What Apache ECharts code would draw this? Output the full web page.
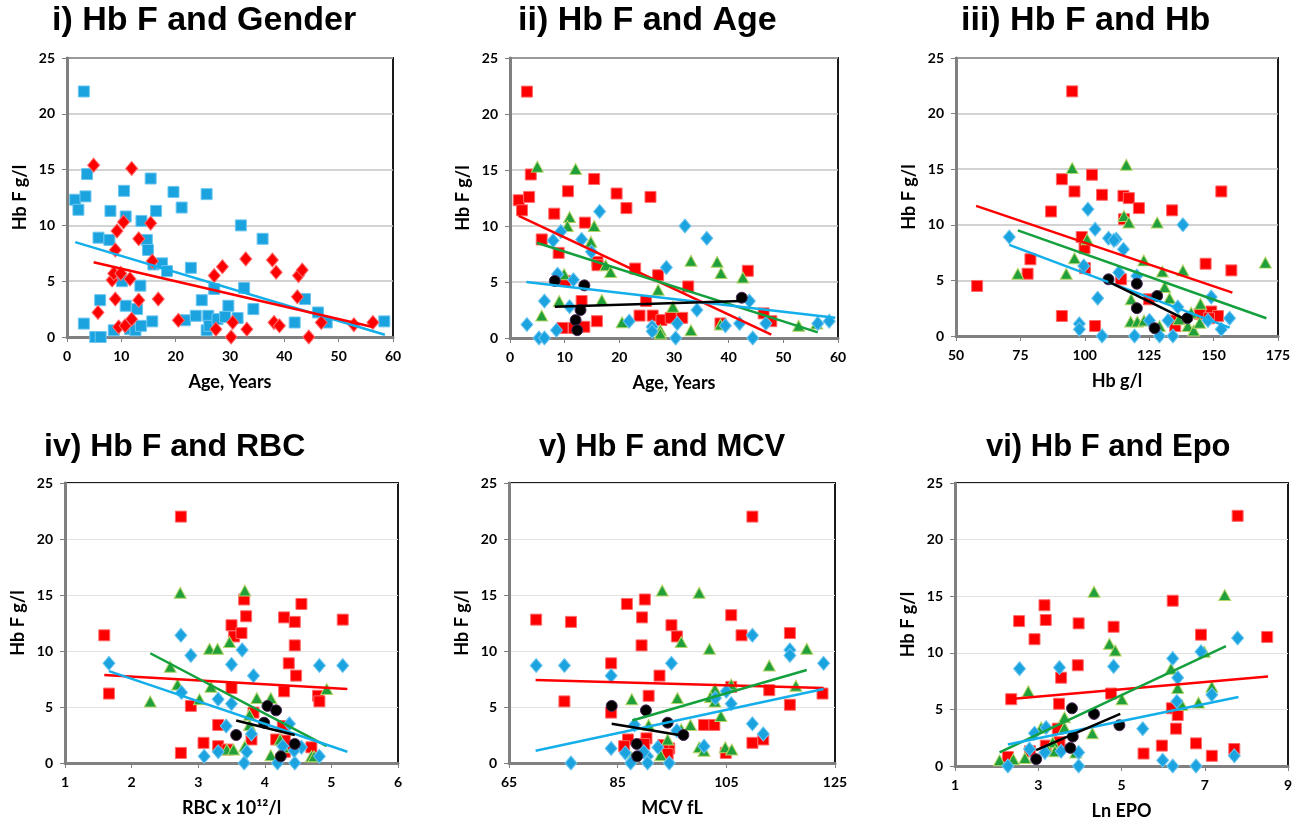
<!DOCTYPE html>
<html><head><meta charset="utf-8">
<script src="https://cdn.jsdelivr.net/npm/echarts@6/dist/echarts.min.js"></script>
<style>html,body{margin:0;padding:0;background:#fff}#c{width:1308px;height:825px}</style>
</head><body><div id="c"></div>
<script>
// ---------- Titles & axis labels ----------
const titles = ['i) Hb F and Gender','ii) Hb F and Age','iii) Hb F and Hb','iv) Hb F and RBC','v) Hb F and MCV','vi) Hb F and Epo'];
const xNames = ['Age, Years','Age, Years','Hb g/l','RBC x 10¹²/l','MCV fL','Ln EPO'];
const yName = 'Hb F g/l';
const yTicks = [0,5,10,15,20,25];
const xTicks = [[0,10,20,30,40,50,60],[0,10,20,30,40,50,60],[50,75,100,125,150,175],[1,2,3,4,5,6],[65,85,105,125],[1,3,5,7,9]];

// ---------- Panel i ----------
const p1Blue = [[3.1,22.0],[3.7,14.6],[1.5,12.3],[2.1,11.4],[3.4,12.6],[5.8,8.9],[7.8,8.7],[8.0,11.3],[10.5,13.1],[10.8,10.8],[13.7,10.4],[14.7,8.7],[14.9,7.8],[15.4,14.2],[16.4,11.3],[15.9,6.5],[17.5,6.6],[18.4,5.9],[19.6,13.0],[21.1,11.6],[22.8,6.2],[25.7,12.8],[27.1,4.3],[32.0,10.0],[32.6,4.4],[36.0,8.8],[10.1,5.0],[13.5,4.6],[6.1,3.3],[10.8,2.8],[12.9,2.5],[3.1,1.2],[5.2,0],[6.2,0],[8.6,0.6],[11.6,0.7],[12.6,0.6],[13.6,1.0],[15.7,1.4],[21.7,1.5],[23.7,1.9],[24.8,3.3],[25.7,0.6],[26.0,1.9],[26.2,1.0],[27.7,1.6],[29.1,1.8],[29.7,2.8],[31.4,1.7],[34.3,2.5],[41.9,1.3],[43.8,3.4],[46.2,2.2],[47.8,1.3],[58.4,1.4]];
const p1Red = [[4.9,15.4],[11.9,15.1],[10.4,10.3],[9.2,9.5],[15.4,10.2],[13.2,8.8],[8.9,7.8],[15.7,6.8],[8.3,5.1],[8.6,5.7],[9.9,5.7],[11.6,5.2],[8.9,3.4],[13.2,3.3],[16.8,3.4],[5.7,2.2],[9.5,0.9],[10.7,1.0],[11.9,1.6],[20.5,1.5],[27.1,5.5],[28.6,6.3],[32.9,7.0],[37.8,6.9],[38.5,5.8],[42.6,5.5],[43.3,6.0],[42.4,3.6],[27.4,0.7],[30.5,1.3],[30.2,0],[33.1,0.7],[38.1,1.3],[39.1,1.0],[44.5,0],[46.8,1.3],[52.8,1.1],[56.3,1.3]];
const p1BlueFit = [[1.5,8.5],[58.5,0.2]];
const p1RedFit = [[4.9,6.7],[56.3,0.9]];

// ---------- Panel ii ----------
const p2Red = [[3.1,22.0],[1.6,12.3],[2.2,11.4],[3.8,14.6],[3.5,12.6],[10.6,13.1],[15.4,14.2],[19.5,12.9],[21.3,11.6],[25.7,12.6],[8.1,11.1],[13.7,10.3],[5.8,8.8],[8.9,7.6],[16.0,6.8],[16.0,6.5],[22.9,6.2],[27.1,5.6],[10.1,5.1],[32.6,4.6],[43.5,6.0],[13.1,3.3],[24.9,3.3],[46.4,2.2],[47.8,1.5],[9.6,0.9],[11.7,0.9],[13.6,1.0],[15.9,1.5],[23.7,2.0],[26.1,2.0],[27.7,1.6],[29.4,1.8],[31.5,1.8],[38.5,1.3]];
const p2Green = [[5.0,15.3],[12.0,15.1],[10.9,10.8],[10.5,10.0],[15.4,10.0],[14.8,8.6],[17.5,6.5],[18.4,5.9],[9.9,5.7],[37.9,6.8],[33.1,6.9],[38.6,5.8],[42.6,5.4],[27.1,4.3],[29.8,2.8],[9.0,3.3],[16.8,3.4],[5.8,2.0],[20.5,1.4],[27.5,0.7],[27.5,0.4],[33.1,0.7],[38.5,1.2],[52.8,1.1],[56.1,1.3]];
const p2Blue = [[16.4,11.3],[32.0,10.0],[36.0,8.9],[9.3,9.5],[7.9,8.7],[13.1,8.8],[14.9,7.7],[8.7,5.7],[11.6,5.2],[28.6,6.3],[6.3,3.3],[10.9,2.8],[34.2,2.5],[43.8,3.3],[3.1,1.2],[5.3,0],[6.3,0],[8.5,0.7],[21.8,1.5],[26.0,1.0],[26.0,0.6],[30.6,1.3],[30.3,0],[39.4,1.1],[42.0,1.3],[44.4,0],[46.8,1.3],[56.3,1.3],[58.4,1.5]];
const p2Black = [[8.2,5.1],[13.6,4.7],[12.9,2.5],[12.0,1.6],[12.3,0.7],[42.4,3.6]];
const p2RedFit = [[1.6,10.9],[47.8,0.3]];
const p2GreenFit = [[4.9,8.5],[56.3,0.5]];
const p2BlueFit = [[3.0,5.0],[59.5,1.8]];
const p2BlackFit = [[8.2,2.8],[42.4,3.3]];

// ---------- Panel iii ----------
const p3Red = [[95.1,22.0],[58.2,4.5],[77.8,5.6],[78.9,6.9],[86.9,11.2],[91.1,14.1],[96.0,13.0],[102.8,14.5],[106.7,12.7],[115.0,12.6],[117.1,12.4],[121.0,11.5],[115.2,10.5],[98.8,8.9],[99.9,7.9],[100.1,6.1],[133.9,11.3],[153.0,13.0],[146.9,6.5],[156.9,5.9],[114.1,5.1],[124.9,3.3],[91.1,1.8],[104.0,0.9],[134.2,1.4],[135.1,0.9],[144.6,2.0],[149.1,2.2],[151.7,1.8],[148.2,1.6]];
const p3Green = [[95.1,15.1],[116.1,15.4],[115.2,10.8],[117.1,10.2],[128.1,10.2],[100.9,8.7],[96.0,7.0],[74.0,5.6],[92.8,5.6],[122.9,6.8],[130.1,5.8],[138.1,5.9],[170.1,6.6],[131.0,4.4],[132.9,3.4],[118.0,3.3],[144.9,2.9],[117.8,1.3],[120.4,1.3],[123.0,1.4],[129.0,0.9],[141.3,2.1],[140.0,0.9],[142.3,0.5],[136.5,1.5],[144.6,1.2]];
const p3Blue = [[70.7,8.9],[101.2,11.4],[104.0,9.6],[109.2,8.8],[112.2,8.7],[111.3,8.6],[115.0,7.8],[138.1,10.0],[99.6,6.3],[113.2,5.7],[120.2,5.4],[105.0,3.4],[97.9,1.1],[97.9,0.6],[106.7,0],[119.3,0],[129.0,0],[134.2,0],[149.1,3.5],[136.1,2.6],[125.1,1.4],[132.3,1.4],[156.2,1.6],[153.0,0.6],[147.8,1.4]];
const p3Black = [[109.2,5.1],[120.2,4.7],[120.2,2.5],[128.1,3.6],[127.1,0.7],[139.8,1.6]];
const p3RedFit = [[57.8,11.7],[157.3,3.9]];
const p3GreenFit = [[74.0,9.5],[170.5,1.6]];
const p3BlueFit = [[70.7,8.2],[156.2,0.75]];
const p3BlackFit = [[109.2,4.9],[139.8,1.4]];

// ---------- Panel iv ----------
const p4Red = [[2.74,22.0],[1.59,11.4],[1.66,6.2],[3.69,14.6],[3.72,13.1],[4.55,14.2],[4.29,13.0],[4.45,12.6],[5.17,12.8],[3.50,12.3],[3.54,11.3],[3.65,11.6],[4.45,10.5],[4.36,8.9],[4.47,7.8],[3.50,6.7],[4.29,6.4],[4.80,6.0],[4.82,5.5],[2.89,5.1],[3.30,3.4],[3.83,4.5],[3.80,2.1],[3.08,1.8],[3.30,1.5],[3.44,1.2],[2.74,0.9],[4.27,3.3],[4.17,2.1],[4.30,2.0],[4.70,1.4],[4.30,1.0]];
const p4Green = [[2.73,15.2],[3.70,15.4],[3.47,10.8],[3.17,10.2],[3.29,10.2],[2.58,8.6],[2.69,7.0],[2.28,5.5],[3.02,5.7],[3.19,6.8],[3.88,5.8],[4.09,5.8],[4.93,6.6],[3.77,4.3],[3.77,3.4],[3.43,1.2],[3.53,1.2],[3.70,1.5],[4.09,0.7],[4.23,2.1],[4.28,1.4],[4.70,0.6],[4.74,0.6]];
const p4Blue = [[2.74,11.4],[1.66,8.9],[2.89,9.6],[3.50,8.8],[3.66,10.1],[3.83,7.8],[4.82,8.7],[5.17,8.7],[2.75,6.3],[3.30,5.7],[3.50,5.3],[3.42,3.3],[3.73,1.0],[3.30,1.0],[3.09,0.6],[3.69,0],[4.19,0],[4.45,0],[4.37,3.5],[3.80,2.6],[4.55,1.4],[4.44,1.1],[4.82,0.6],[4.27,1.5]];
const p4Black = [[4.04,5.1],[4.17,4.7],[3.99,3.6],[3.57,2.5],[4.45,1.7],[4.24,0.6]];
const p4RedFit = [[1.59,7.85],[5.24,6.6]];
const p4GreenFit = [[2.28,9.8],[4.93,1.5]];
const p4BlueFit = [[1.66,8.2],[5.24,1.0]];
const p4BlackFit = [[3.57,3.8],[4.45,2.5]];

// ---------- Panel v ----------
const p5Red = [[109.8,22.0],[70.0,12.8],[76.4,12.6],[86.7,14.2],[90.0,14.6],[89.5,13.0],[94.9,12.3],[95.9,11.3],[105.9,13.2],[107.8,11.4],[116.7,11.6],[89.4,10.5],[83.8,8.9],[92.7,7.8],[75.2,5.5],[83.8,4.5],[90.7,6.0],[105.9,6.8],[112.9,6.5],[116.7,5.2],[122.7,6.2],[100.9,3.4],[102.8,3.4],[86.9,2.1],[90.3,2.2],[86.2,1.5],[94.5,1.3],[93.4,1.6],[94.2,0.8],[104.9,0.9],[109.8,1.8],[111.8,2.1],[89.9,1.7]];
const p5Green = [[93.2,15.4],[100.0,15.2],[96.7,10.8],[101.9,10.2],[119.8,10.2],[112.9,8.7],[105.9,7.0],[102.9,6.6],[102.1,5.9],[102.9,5.5],[117.8,6.9],[96.0,5.8],[87.6,5.7],[104.0,4.2],[98.4,3.4],[90.7,3.4],[94.2,2.1],[96.7,3.0],[100.0,1.4],[100.9,1.1],[104.8,1.4],[106.0,1.2],[92.9,0.7],[87.6,0.5]];
const p5Blue = [[70.0,8.7],[75.2,8.7],[83.8,7.8],[94.9,8.9],[109.8,11.4],[116.7,10.1],[116.7,9.6],[122.9,8.9],[103.0,5.8],[105.0,6.4],[105.9,5.3],[109.8,3.5],[111.8,2.6],[88.1,3.4],[95.9,2.9],[83.8,1.3],[86.4,0.9],[92.4,1.4],[100.9,1.5],[90.5,0.6],[76.4,0],[87.4,0],[90.5,0],[94.5,0],[89.8,1.0]];
const p5Black = [[83.9,5.1],[90.2,4.7],[94.2,3.6],[97.1,2.5],[88.5,1.7],[88.6,0.6]];
const p5RedFit = [[69.9,7.4],[122.9,6.7]];
const p5GreenFit = [[87.7,3.8],[119.8,8.3]];
const p5BlueFit = [[69.9,1.1],[122.9,6.6]];
const p5BlackFit = [[83.9,3.5],[96.3,2.5]];

// ---------- Panel vi ----------
const p6Red = [[7.79,22.1],[8.50,11.4],[6.23,14.6],[6.91,11.6],[2.54,12.8],[3.15,14.2],[3.18,12.9],[2.91,11.2],[3.97,12.6],[4.81,12.3],[3.95,8.9],[3.55,7.8],[4.75,6.4],[2.35,5.9],[3.50,5.5],[6.21,5.1],[6.35,4.5],[6.31,3.3],[3.47,3.3],[3.51,2.1],[3.18,1.8],[2.80,1.3],[2.27,0.8],[5.53,1.1],[5.97,1.8],[6.79,2.0],[7.17,0.9],[7.71,1.5]];
const p6Green = [[4.34,15.4],[7.48,15.1],[4.71,10.8],[4.85,10.2],[6.99,10.1],[6.19,8.6],[6.35,6.9],[7.17,7.0],[2.76,6.6],[5.01,5.9],[6.45,5.4],[6.85,5.6],[3.63,4.3],[3.07,3.4],[3.63,3.4],[4.30,2.9],[3.35,2.1],[3.23,1.4],[3.40,1.3],[3.90,1.2],[2.68,0.7],[2.40,0.6],[2.07,0.5]];
const p6Blue = [[7.79,11.3],[2.55,8.6],[3.51,8.7],[4.81,8.8],[6.23,9.5],[6.35,7.8],[6.91,10.1],[7.17,6.3],[6.33,5.7],[3.19,3.4],[2.91,2.9],[2.79,1.5],[3.16,1.2],[3.55,1.3],[3.97,1.2],[2.27,0],[3.97,0],[5.51,3.3],[5.99,0.5],[6.23,0],[6.79,0],[7.71,0.9]];
const p6Black = [[3.81,5.1],[4.34,4.6],[4.95,3.6],[3.83,2.6],[3.77,1.6],[2.95,0.6]];
const p6RedFit = [[2.27,5.9],[8.52,7.9]];
const p6GreenFit = [[2.07,1.2],[7.51,10.6]];
const p6BlueFit = [[2.27,1.9],[7.81,6.1]];
const p6BlackFit = [[2.95,1.4],[4.97,4.6]];

// ---------- Layout ----------
const grids = [
  {left:67, top:58, width:326, height:279},
  {left:510, top:58, width:328, height:280},
  {left:956, top:58, width:322, height:278},
  {left:65, top:483, width:333, height:280},
  {left:509, top:483, width:326, height:280},
  {left:955, top:483, width:333, height:283}
];
const titlePos = [[52,4,34],[518,4,34],[961,4,34],[44,431,32],[539,432,31],[986,432,31]];

const RED='#ff0000', BLUE='#1ba3e0', GREEN='#20a03a', BLACK='#000000';
const LBLUE='#14aeea', LGREEN='#14a03c';

const fontNum = 'Lato, "Open Sans", sans-serif';

function xAxis(i){
  const t = xTicks[i];
  return {
    type:'value', gridIndex:i, min:t[0], max:t[t.length-1],
    name:xNames[i], nameLocation:'middle', nameGap:36,
    nameTextStyle:{fontFamily:fontNum, fontWeight:'bold', fontSize:18, color:'#000'},
    axisLine:{show:true, onZero:false, lineStyle:{color:'#808080', width:3}},
    axisTick:{show:true, length:5, customValues:t, lineStyle:{color:'#808080', width:1}},
    axisLabel:{customValues:t, margin:12, fontFamily:fontNum, fontWeight:'bold', fontSize:14, color:'#000'},
    splitLine:{show:false}
  };
}
function yAxis(i){
  return {
    type:'value', gridIndex:i, min:0, max:25, interval:5,
    name:yName, nameLocation:'middle', nameGap:38, nameRotate:90,
    nameTextStyle:{fontFamily:fontNum, fontWeight:'bold', fontSize:18, color:'#000'},
    axisLine:{show:true, onZero:false, lineStyle:{color:'#808080', width:3}},
    axisTick:{show:true, length:5, lineStyle:{color:'#808080', width:1}},
    axisLabel:{margin:12, fontFamily:fontNum, fontWeight:'bold', fontSize:14, color:'#000'},
    splitLine:{show:true, lineStyle:{color: i<3 ? '#c4c4c4' : '#e2e2e2', width: i<3 ? 1.5 : 1}}
  };
}
function pts(i, data, kind){
  const m = {
    sq:{symbol:'rect', size:11, color:RED, border:'#ff6a6a'},
    bsq:{symbol:'rect', size:11, color:BLUE, border:'#6cc6ef'},
    rdia:{symbol:'diamond', size:[12,14], color:RED, border:'#ff6a6a'},
    bdia:{symbol:'diamond', size:[12,14], color:BLUE, border:'#6cc6ef'},
    tri:{symbol:'triangle', size:[12,11], color:GREEN, border:'#b5d56a'},
    circ:{symbol:'circle', size:11, color:BLACK, border:'#4a2a5a'}
  }[kind];
  return {type:'scatter', xAxisIndex:i, yAxisIndex:i, data:data, symbol:m.symbol, symbolSize:m.size,
    itemStyle:{color:m.color, borderColor:m.border, borderWidth:1, opacity:1}, z:3, silent:true};
}
function fit(i, data, color){
  return {type:'line', xAxisIndex:i, yAxisIndex:i, data:data, symbol:'none', smooth:false,
    lineStyle:{color:color, width:2.5}, z:5, silent:true};
}

const series = [
  pts(0,p1Blue,'bsq'), pts(0,p1Red,'rdia'), fit(0,p1BlueFit,LBLUE), fit(0,p1RedFit,RED),
  pts(1,p2Red,'sq'), pts(1,p2Green,'tri'), pts(1,p2Blue,'bdia'), pts(1,p2Black,'circ'),
  fit(1,p2RedFit,RED), fit(1,p2GreenFit,LGREEN), fit(1,p2BlueFit,LBLUE), fit(1,p2BlackFit,BLACK),
  pts(2,p3Red,'sq'), pts(2,p3Green,'tri'), pts(2,p3Blue,'bdia'), pts(2,p3Black,'circ'),
  fit(2,p3RedFit,RED), fit(2,p3GreenFit,LGREEN), fit(2,p3BlueFit,LBLUE), fit(2,p3BlackFit,BLACK),
  pts(3,p4Red,'sq'), pts(3,p4Green,'tri'), pts(3,p4Blue,'bdia'), pts(3,p4Black,'circ'),
  fit(3,p4RedFit,RED), fit(3,p4GreenFit,LGREEN), fit(3,p4BlueFit,LBLUE), fit(3,p4BlackFit,BLACK),
  pts(4,p5Red,'sq'), pts(4,p5Green,'tri'), pts(4,p5Blue,'bdia'), pts(4,p5Black,'circ'),
  fit(4,p5RedFit,RED), fit(4,p5GreenFit,LGREEN), fit(4,p5BlueFit,LBLUE), fit(4,p5BlackFit,BLACK),
  pts(5,p6Red,'sq'), pts(5,p6Green,'tri'), pts(5,p6Blue,'bdia'), pts(5,p6Black,'circ'),
  fit(5,p6RedFit,RED), fit(5,p6GreenFit,LGREEN), fit(5,p6BlueFit,LBLUE), fit(5,p6BlackFit,BLACK)
];

const option = {
  animation:false,
  backgroundColor:'#ffffff',
  title: titles.map((t,k)=>({text:t, left:titlePos[k][0], top:titlePos[k][1], padding:0,
    textStyle:{fontFamily:'"Liberation Sans", Arial, sans-serif', fontWeight:'bold', fontSize:titlePos[k][2], color:'#000'}})),
  grid: grids.map(g=>Object.assign({show:true, borderColor:'#1a1a1a', borderWidth:2, backgroundColor:'#fff', containLabel:false}, g)),
  xAxis: [0,1,2,3,4,5].map(xAxis),
  yAxis: [0,1,2,3,4,5].map(yAxis),
  series: series
};
const chart = echarts.init(document.getElementById('c'), null, {renderer:'canvas'});
chart.setOption(option);
</script>
</body></html>
